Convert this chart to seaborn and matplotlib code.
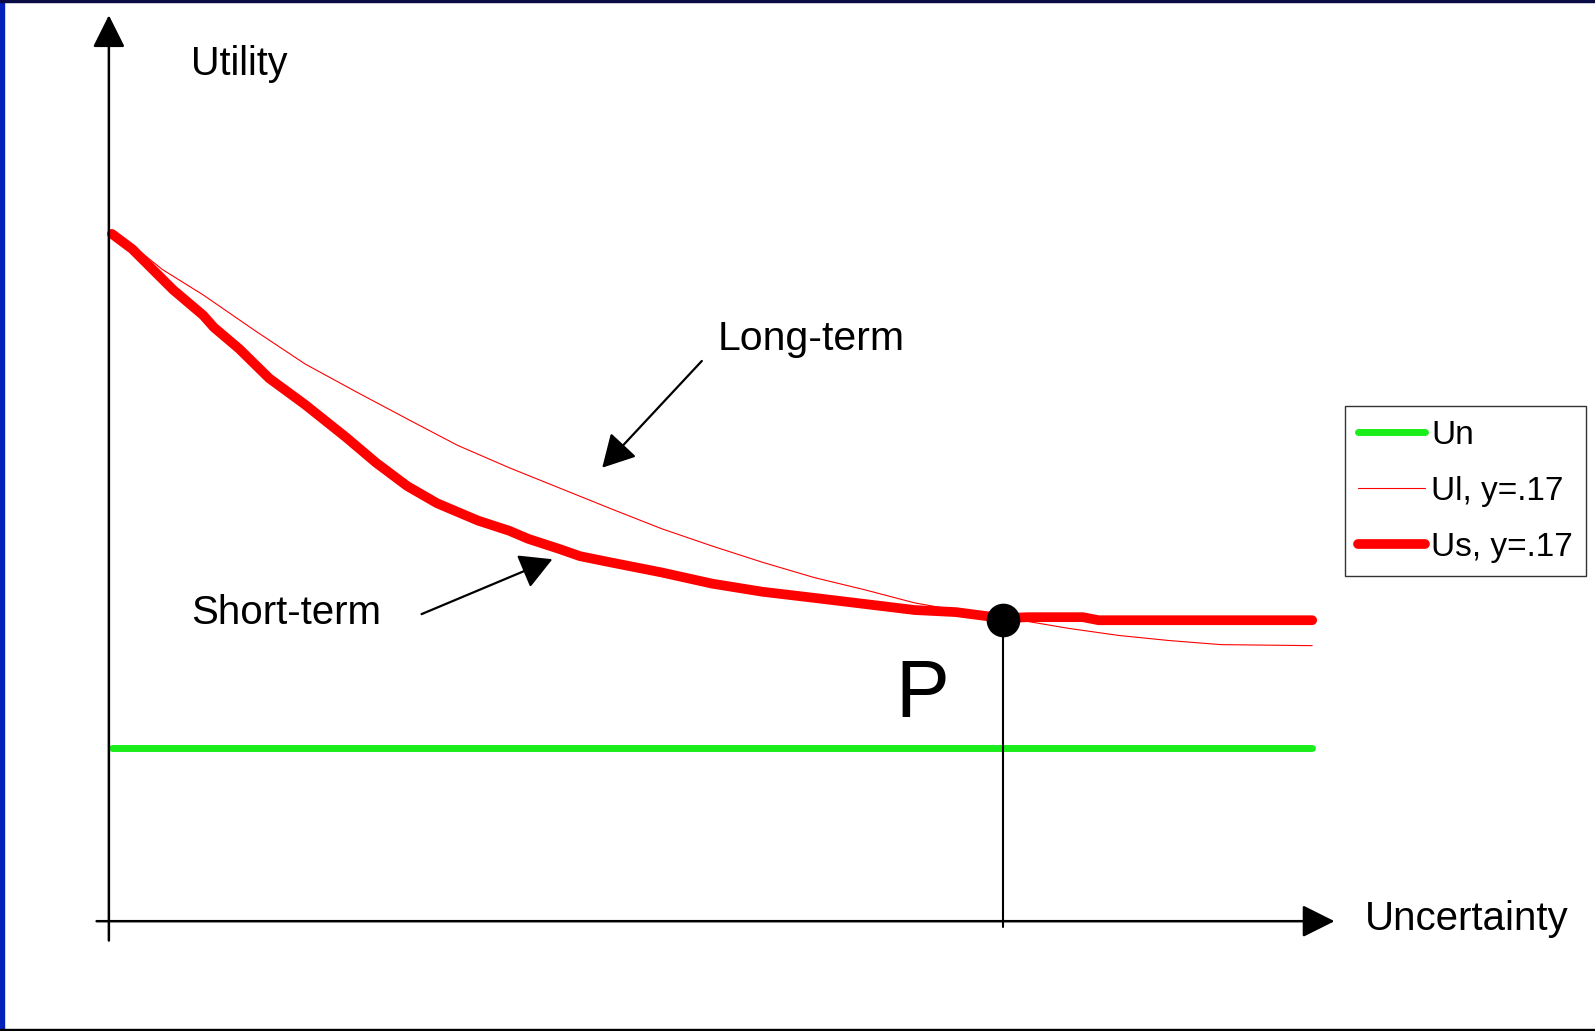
import pandas as pd
import matplotlib.pyplot as plt
import matplotlib.patches as mpatches
import seaborn as sns

# Uncertainty (0..1) and utility (arbitrary units)
us_x = [0, 0.017, 0.034, 0.051, 0.076, 0.085, 0.106, 0.131, 0.161, 0.195, 0.220,
        0.246, 0.271, 0.305, 0.331, 0.347, 0.373, 0.390, 0.415, 0.458, 0.500,
        0.542, 0.585, 0.627, 0.669, 0.703, 0.742, 0.763, 0.809, 0.822, 1.0]
us_y = [6.76, 6.61, 6.41, 6.21, 5.96, 5.84, 5.63, 5.34, 5.08, 4.76, 4.51,
        4.28, 4.11, 3.94, 3.84, 3.76, 3.66, 3.59, 3.53, 3.43, 3.32,
        3.24, 3.18, 3.12, 3.06, 3.04, 2.98, 2.99, 2.99, 2.96, 2.96]

ul_x = [0, 0.021, 0.042, 0.076, 0.119, 0.161, 0.203, 0.246, 0.288, 0.331, 0.373,
        0.415, 0.458, 0.500, 0.542, 0.585, 0.627, 0.669, 0.712, 0.742, 0.797,
        0.839, 0.881, 0.924, 1.0]
ul_y = [6.76, 6.61, 6.41, 6.16, 5.81, 5.48, 5.21, 4.94, 4.68, 4.46, 4.26,
        4.06, 3.86, 3.69, 3.53, 3.38, 3.26, 3.13, 3.04, 2.99, 2.88,
        2.81, 2.76, 2.72, 2.71]

un_x = [0, 1.0]
un_y = [1.70, 1.70]

p_x, p_y = 0.742, 2.96

labels = ["Un", "Ul, y=.17", "Us, y=.17"]

sns.set_theme(style="white")
plt.rcParams['font.family'] = ['Liberation Sans', 'DejaVu Sans']
plt.rcParams['text.color'] = 'black'

fig = plt.figure(figsize=(15.95, 10.31), dpi=100)
ax = fig.add_axes([0, 0, 1, 1])

df_un = pd.DataFrame({'x': un_x, 'y': un_y})
df_ul = pd.DataFrame({'x': ul_x, 'y': ul_y})
df_us = pd.DataFrame({'x': us_x, 'y': us_y})

sns.lineplot(data=df_un, x='x', y='y', color='#1aee1a', linewidth=5,
             solid_capstyle='round', label=labels[0], ax=ax)
sns.lineplot(data=df_ul, x='x', y='y', color='#ff0000', linewidth=0.8,
             label=labels[1], ax=ax)
sns.lineplot(data=df_us, x='x', y='y', color='#ff0000', linewidth=7,
             solid_capstyle='round', label=labels[2], ax=ax)

# point P and its drop line
ax.plot([p_x, p_x], [p_y, -0.06], color='black', lw=1.5, zorder=4)
ax.scatter([p_x], [p_y], s=540, color='black', zorder=5)
ax.text(0.653, 2.01, "P", fontsize=58, ha='left', va='baseline')

# axes with arrows
arr = dict(arrowstyle='-|>,head_length=1.0,head_width=0.5', color='black',
           lw=1.8, mutation_scale=20, shrinkA=0, shrinkB=0)
ax.annotate("", xy=(-0.0025, 8.91), xytext=(-0.0025, -0.19), arrowprops=arr)
ax.annotate("", xy=(1.0186, 0), xytext=(-0.0127, 0), arrowprops=arr)

ax.text(0.066, 8.32, "Utility", fontsize=28.5, va='baseline')
ax.text(1.044, -0.086, "Uncertainty", fontsize=29, va='baseline')

small = dict(arrowstyle='-|>,head_length=1.0,head_width=0.55', color='black',
             lw=1.6, mutation_scale=20, shrinkA=0, shrinkB=0)
ax.text(0.505, 5.62, "Long-term", fontsize=29.5, va='baseline')
ax.annotate("", xy=(0.4085, 4.46), xytext=(0.4915, 5.51), arrowprops=small)
ax.text(0.066, 2.92, "Short-term", fontsize=29, va='baseline')
ax.annotate("", xy=(0.367, 3.56), xytext=(0.258, 3.02), arrowprops=small)

ax.set_xlim(-0.0932, 1.2356)
ax.set_ylim(-1.080, 9.060)
ax.set_axis_off()

leg = ax.legend(loc='upper left', bbox_to_anchor=(0.843, 0.606),
                bbox_transform=fig.transFigure, borderaxespad=0,
                fontsize=24, handlelength=2.0, handletextpad=0.2,
                labelspacing=0.75, borderpad=0.4, frameon=True,
                fancybox=False, framealpha=1)
leg.get_frame().set_edgecolor('#333333')
leg.get_frame().set_linewidth(1.0)
for t in leg.get_texts():
    t.set_color('black')

# slide border
fig.patches.append(mpatches.Rectangle((0, 0), 4 / 1595, 1, transform=fig.transFigure,
                                      color='#0022bb', zorder=10))
fig.patches.append(mpatches.Rectangle((0, 1 - 2 / 1031), 1, 2 / 1031,
                                      transform=fig.transFigure, color='#0a0a45', zorder=10))
fig.patches.append(mpatches.Rectangle((0, 0), 1, 2 / 1031, transform=fig.transFigure,
                                      color='black', zorder=10))

fig.savefig("out.png", dpi=100)
